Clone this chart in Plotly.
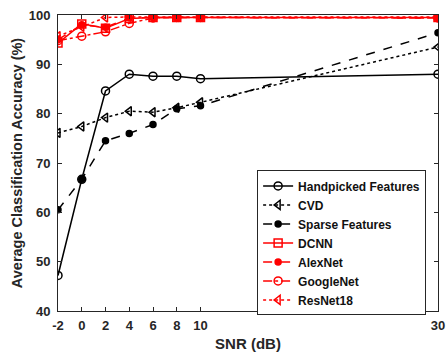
import plotly.graph_objects as go

snr = [-2, 0, 2, 4, 6, 8, 10, 30]
handpicked = [47.2, 66.7, 84.6, 88.0, 87.6, 87.6, 87.1, 88.0]
cvd = [76.1, 77.4, 79.2, 80.5, 80.3, 81.2, 82.3, 93.5]
sparse = [60.5, 66.7, 74.5, 76.0, 77.8, 81.0, 81.6, 96.4]
dcnn = [94.3, 98.2, 97.3, 99.3, 99.5, 99.5, 99.5, 99.5]
alexnet = [95.0, 98.0, 97.5, 99.4, 99.5, 99.5, 99.5, 99.4]
googlenet = [94.8, 95.7, 96.6, 98.3, 99.4, 99.5, 99.5, 99.4]
resnet18 = [95.7, 97.6, 99.5, 99.6, 99.6, 99.6, 99.6, 99.6]

series = [
    ("Handpicked Features", handpicked, "black", "solid", "circle-open", 8),
    ("CVD", cvd, "black", "dot", "triangle-left-open", 8),
    ("Sparse Features", sparse, "black", "dash", "circle", 6),
    ("DCNN", dcnn, "red", "solid", "square-open", 8),
    ("AlexNet", alexnet, "red", "dash", "circle", 6),
    ("GoogleNet", googlenet, "red", "dashdot", "circle-open", 8),
    ("ResNet18", resnet18, "red", "dot", "triangle-left-open", 8),
]

FAM = "Liberation Sans, Arial, sans-serif"

fig = go.Figure()
for name, ys, col, dash, sym, sz in series:
    fig.add_trace(go.Scatter(
        x=snr, y=ys, name=name, mode="lines+markers",
        line=dict(color=col, dash=dash, width=1.5),
        marker=dict(symbol=sym, size=sz, color=col, line=dict(color=col, width=1.5)),
    ))

axis_common = dict(
    showgrid=False, zeroline=False, showline=True, linecolor="#262626", linewidth=1,
    mirror="ticks", ticks="inside", ticklen=4, tickcolor="#262626",
    automargin=False,
    tickfont=dict(family=FAM, size=13, color="#262626", weight="bold"),
)
fig.update_layout(
    width=447, height=356,
    margin=dict(l=58, r=9, t=15, b=45),
    paper_bgcolor="white", plot_bgcolor="white",
    font=dict(family=FAM, size=12, color="#262626"),
    showlegend=True,
    legend=dict(
        x=0.524, y=0.475, xanchor="left", yanchor="top",
        bgcolor="white", bordercolor="#262626", borderwidth=1,
        font=dict(family=FAM, size=12, color="#111", weight="bold"),
        tracegroupgap=0,
    ),
    xaxis=dict(range=[-2, 30], tickvals=snr, ticktext=[str(v) for v in snr],
               ticklabelstandoff=2,
               title=dict(text="SNR (dB)", font=dict(size=15, weight="bold", family=FAM, color="#262626"), standoff=6),
               **axis_common),
    yaxis=dict(range=[40, 100], tickvals=[40, 50, 60, 70, 80, 90, 100],
               ticklabelstandoff=4,
               title=dict(text="Average Classification Accuracy (%)", font=dict(size=14.5, weight="bold", family=FAM, color="#262626"), standoff=2),
               **axis_common),
)
fig.write_html("out.html", post_script="document.body.style.margin='0';",
               config={"displayModeBar": False})
